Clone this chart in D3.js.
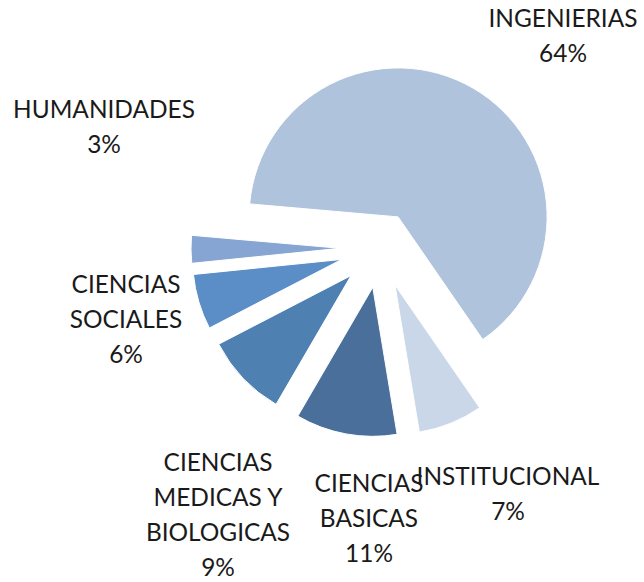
<!DOCTYPE html>
<html>
<head>
<meta charset="utf-8">
<script src="https://cdn.jsdelivr.net/npm/d3@7"></script>
<style>
  body { margin: 0; background: #fff; }
  svg text { font-family: Lato, "Open Sans", sans-serif; fill: #1a1a1a; }
</style>
</head>
<body>
<div id="chart"></div>
<script>
//data
const categories = ['INGENIERIAS', 'INSTITUCIONAL', 'CIENCIAS BASICAS', 'CIENCIAS MEDICAS Y BIOLOGICAS', 'CIENCIAS SOCIALES', 'HUMANIDADES']
const percents = [64, 7, 11, 9, 6, 3]
const labelLines = [
  ['INGENIERIAS'],
  ['INSTITUCIONAL'],
  ['CIENCIAS', 'BASICAS'],
  ['CIENCIAS', 'MEDICAS Y', 'BIOLOGICAS'],
  ['CIENCIAS', 'SOCIALES'],
  ['HUMANIDADES']
]
const colors = ['#afc3dd', '#c9d7e8', '#4a6f9b', '#4f80b2', '#5b8ec6', '#87a5d2']

//dimensions
const dimensions = { width: 644, height: 582 }
const center = { x: 380, y: 248 }
const radius = 149
const explode = [36, 40, 40, 40, 40, 40]
const firstAngle = 275 * Math.PI / 180
const lineHeight = 35

// label anchors (centre x, baseline of first line), placed like the original
const labelPos = [
  [563, 27], [508, 485], [369, 492], [218, 471], [126, 293], [104, 118]
]

const svg = d3.select('#chart')
  .append('svg')
  .attr('width', dimensions.width)
  .attr('height', dimensions.height)

const pie = d3.pie()
  .sort(null)
  .value(d => d)
  .startAngle(firstAngle)
  .endAngle(firstAngle + 2 * Math.PI)

const arc = d3.arc()
  .innerRadius(0)
  .outerRadius(radius)

const arcs = pie(percents)

svg.append('g')
  .attr('transform', `translate(${center.x},${center.y})`)
  .selectAll('path')
  .data(arcs)
  .join('path')
  .attr('d', arc)
  .attr('fill', (d, i) => colors[i])
  .attr('stroke', '#fff')
  .attr('stroke-width', 1)
  .attr('transform', (d, i) => {
    const mid = (d.startAngle + d.endAngle) / 2
    return `translate(${explode[i] * Math.sin(mid)},${-explode[i] * Math.cos(mid)})`
  })

//labels
const labels = svg.append('g')
  .attr('text-anchor', 'middle')
  .selectAll('text')
  .data(arcs)
  .join('text')
  .attr('x', (d, i) => labelPos[i][0])
  .attr('y', (d, i) => labelPos[i][1])

labels.each(function(d, i) {
  const t = d3.select(this)
  const lines = labelLines[i].concat([percents[i] + '%'])
  lines.forEach((l, j) => {
    t.append('tspan')
      .attr('x', labelPos[i][0])
      .attr('dy', j === 0 ? 0 : lineHeight)
      .text(l)
  })
})

// fit font size so the widest word matches the original width
labels.attr('font-size', 28)
const probe = svg.append('text').attr('font-size', 28).text('HUMANIDADES')
const w = probe.node().getComputedTextLength()
probe.remove()
labels.attr('font-size', 28 * 182 / w)
</script>
</body>
</html>
